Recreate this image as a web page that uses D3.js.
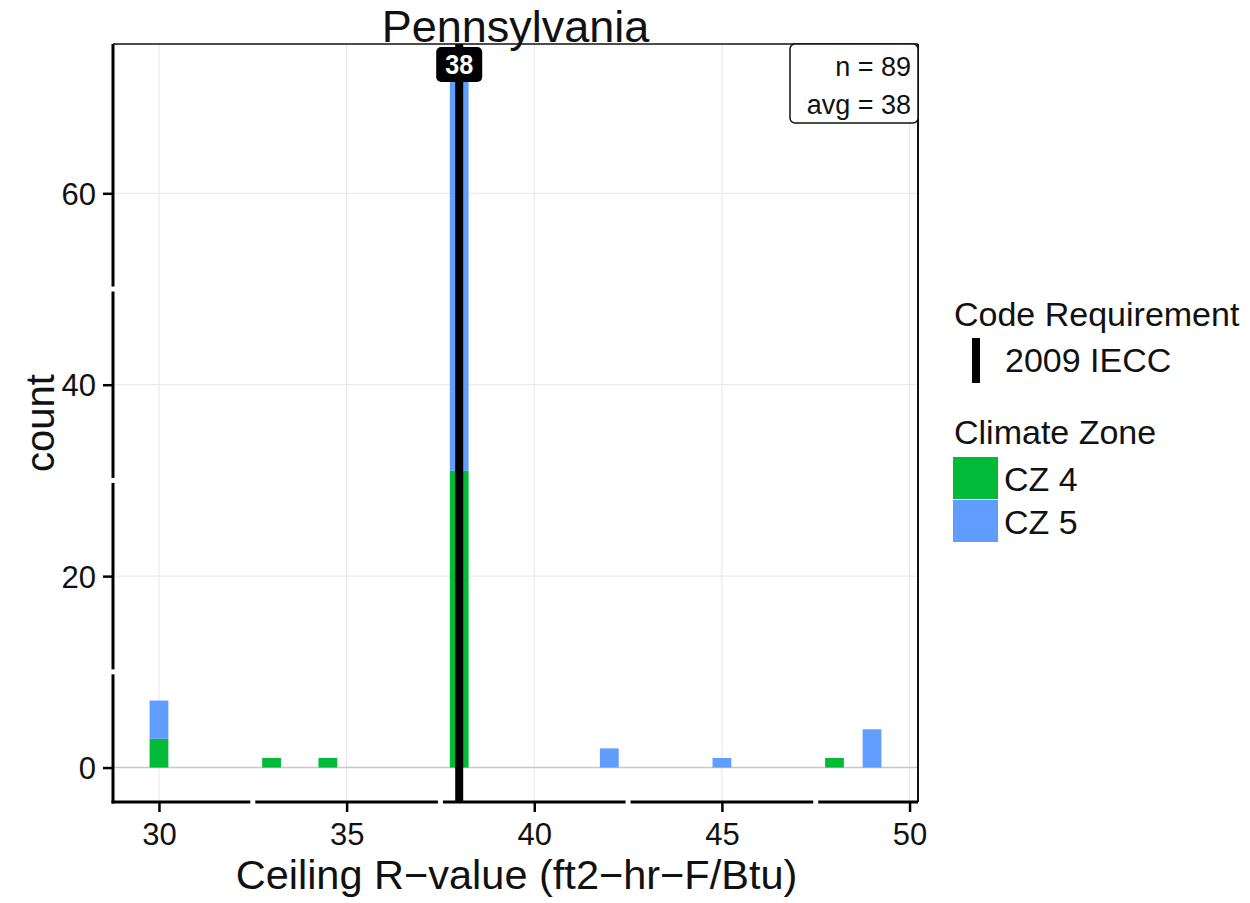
<!DOCTYPE html>
<html>
<head>
<meta charset="utf-8">
<script src="https://cdn.jsdelivr.net/npm/d3@7"></script>
<style>
  html, body { margin: 0; padding: 0; background: #ffffff; }
  svg { display: block; font-family: "Liberation Sans", Arial, sans-serif; }
</style>
</head>
<body>
<svg id="chart" width="1250" height="903"></svg>
<script>
// ---- data ----
const title = "Pennsylvania";
const binCenters = [30, 33, 34.5, 38, 42, 45, 48, 49];
const cz4Counts  = [3, 1, 1, 31, 0, 0, 1, 0];
const cz5Counts  = [4, 0, 0, 41, 2, 1, 0, 4];
const binWidth = 0.5;
const zoneNames = ["CZ 4", "CZ 5"];
const zoneColors = ["#00BA38", "#619CFF"];
const xTicks = [30, 35, 40, 45, 50];
const yTicks = [0, 20, 40, 60];
const codeRequirement = 38;
const codeLabel = "2009 IECC";
const nObs = 89;
const avgValue = 38;
const xLabel = "Ceiling R\u2212value (ft2\u2212hr\u2212F/Btu)";
const yLabel = "count";

// ---- layout ----
const svg = d3.select("#chart");
const P = { left: 113, right: 918, top: 44, bottom: 802 };
const xMin = 29.75, xMax = 49.25, yMaxC = 72;
const xPad = (xMax - xMin) * 0.05, yPad = yMaxC * 0.05;
const x = d3.scaleLinear().domain([xMin - xPad, xMax + xPad]).range([P.left, P.right]);
const y = d3.scaleLinear().domain([-yPad, yMaxC + yPad]).range([P.bottom, P.top]);

// grid
const g = svg.append("g");
g.selectAll("line.vg").data(xTicks).join("line")
  .attr("x1", d => x(d)).attr("x2", d => x(d))
  .attr("y1", P.top).attr("y2", P.bottom)
  .attr("stroke", "#e6e6e6").attr("stroke-width", 1);
g.selectAll("line.hg").data(yTicks).join("line")
  .attr("x1", P.left).attr("x2", P.right)
  .attr("y1", d => y(d)).attr("y2", d => y(d))
  .attr("stroke", d => d === 0 ? "#c8c8c8" : "#e6e6e6").attr("stroke-width", d => d === 0 ? 1.5 : 1);

// stacked bars
const rows = binCenters.map((c, i) => ({ c, v: [cz4Counts[i], cz5Counts[i]] }));
rows.forEach(r => {
  let base = 0;
  r.v.forEach((v, k) => {
    if (v > 0) {
      g.append("rect")
        .attr("x", x(r.c - binWidth / 2))
        .attr("width", x(r.c + binWidth / 2) - x(r.c - binWidth / 2))
        .attr("y", Math.max(y(base + v), P.top))
        .attr("height", y(base) - Math.max(y(base + v), P.top))
        .attr("fill", zoneColors[k]);
    }
    base += v;
  });
});

// code requirement line
g.append("line")
  .attr("x1", x(codeRequirement)).attr("x2", x(codeRequirement))
  .attr("y1", P.top).attr("y2", P.bottom)
  .attr("stroke", "#000").attr("stroke-width", 8);

// panel border (top/right thin)
g.append("line").attr("x1", P.left).attr("x2", P.right).attr("y1", P.top).attr("y2", P.top)
  .attr("stroke", "#111").attr("stroke-width", 1.5);
g.append("line").attr("x1", P.right).attr("x2", P.right).attr("y1", P.top).attr("y2", P.bottom)
  .attr("stroke", "#111").attr("stroke-width", 2);

// axes
const xAxis = d3.axisBottom(x).tickValues(xTicks).tickSize(10).tickPadding(10).tickFormat(d3.format("d"));
const yAxis = d3.axisLeft(y).tickValues(yTicks).tickSize(10).tickPadding(7).tickFormat(d3.format("d"));
const gx = svg.append("g").attr("transform", `translate(0,${P.bottom})`).call(xAxis);
const gy = svg.append("g").attr("transform", `translate(${P.left},0)`).call(yAxis);
[gx, gy].forEach(a => {
  a.select(".domain").remove();
  a.selectAll(".tick line").attr("stroke", "#000").attr("stroke-width", 2.5);
  a.selectAll(".tick text").attr("fill", "#111").attr("font-size", 31)
    .attr("font-family", "'Liberation Sans', Arial, sans-serif");
});
gx.selectAll(".tick text").attr("dy", "0.75em");
gy.selectAll(".tick text").attr("dy", "0.36em");

// axis lines with small gaps at tick midpoints
function segs(arr, lo, hi) {
  const mids = arr.slice(1).map((d, i) => (arr[i] + d) / 2);
  const pts = [lo, ...mids.flatMap(m => [m - 2.5, m + 2.5]), hi];
  const out = [];
  for (let i = 0; i < pts.length; i += 2) out.push([pts[i], pts[i + 1]]);
  return out;
}
const xMidPx = xTicks.map(d => x(d));
svg.selectAll("line.xax").data(segs(xMidPx, P.left - 1.5, P.right)).join("line")
  .attr("x1", d => d[0]).attr("x2", d => d[1]).attr("y1", P.bottom).attr("y2", P.bottom)
  .attr("stroke", "#000").attr("stroke-width", 3);
const yPx = yTicks.map(d => y(d)).reverse();
svg.selectAll("line.yax").data(segs(yPx, P.top, P.bottom + 1.5)).join("line")
  .attr("x1", P.left).attr("x2", P.left).attr("y1", d => d[0]).attr("y2", d => d[1])
  .attr("stroke", "#000").attr("stroke-width", 3);

// avg label at top
const lab = svg.append("g");
lab.append("rect").attr("x", x(avgValue) - 23).attr("y", 47).attr("width", 46).attr("height", 35)
  .attr("rx", 5).attr("fill", "#000");
lab.append("text").attr("x", x(avgValue)).attr("y", 74).attr("text-anchor", "middle")
  .attr("fill", "#fff").attr("font-size", 28).attr("font-weight", "bold")
  .attr("textLength", 28).attr("lengthAdjust", "spacingAndGlyphs").text(String(avgValue));

// n / avg box
const nb = svg.append("g");
nb.append("rect").attr("x", 790).attr("y", P.top).attr("width", P.right - 790).attr("height", 79)
  .attr("rx", 5).attr("fill", "#fff").attr("stroke", "#111").attr("stroke-width", 1.5);
nb.append("text").attr("x", 911).attr("y", 76).attr("text-anchor", "end").attr("font-size", 27)
  .attr("fill", "#111").text(`n = ${nObs}`);
nb.append("text").attr("x", 911).attr("y", 114).attr("text-anchor", "end").attr("font-size", 27)
  .attr("fill", "#111").text(`avg = ${avgValue}`);

// title
svg.append("text").attr("x", (P.left + P.right) / 2).attr("y", 42).attr("text-anchor", "middle")
  .attr("font-size", 45).attr("fill", "#111").text(title);

// axis titles
svg.append("text").attr("x", (P.left + P.right) / 2 + 1).attr("y", 889).attr("text-anchor", "middle")
  .attr("font-size", 41.5).attr("fill", "#111").text(xLabel);
svg.append("text").attr("transform", `translate(54,${(P.top + P.bottom) / 2}) rotate(-90)`)
  .attr("text-anchor", "middle").attr("font-size", 40).attr("fill", "#111").text(yLabel);

// legend
const lg = svg.append("g");
lg.append("text").attr("x", 954).attr("y", 326).attr("font-size", 34).attr("fill", "#111").text("Code Requirement");
lg.append("rect").attr("x", 972).attr("y", 338).attr("width", 8).attr("height", 45).attr("fill", "#000");
lg.append("text").attr("x", 1005).attr("y", 372).attr("font-size", 34).attr("fill", "#111").text(codeLabel);
lg.append("text").attr("x", 954).attr("y", 444).attr("font-size", 34).attr("fill", "#111").text("Climate Zone");
zoneNames.forEach((z, i) => {
  lg.append("rect").attr("x", 953).attr("y", 457 + i * 43).attr("width", 45).attr("height", 42)
    .attr("fill", zoneColors[i]);
  lg.append("text").attr("x", 1004).attr("y", 491 + i * 43).attr("font-size", 34).attr("fill", "#111").text(z);
});
</script>
</body>
</html>
